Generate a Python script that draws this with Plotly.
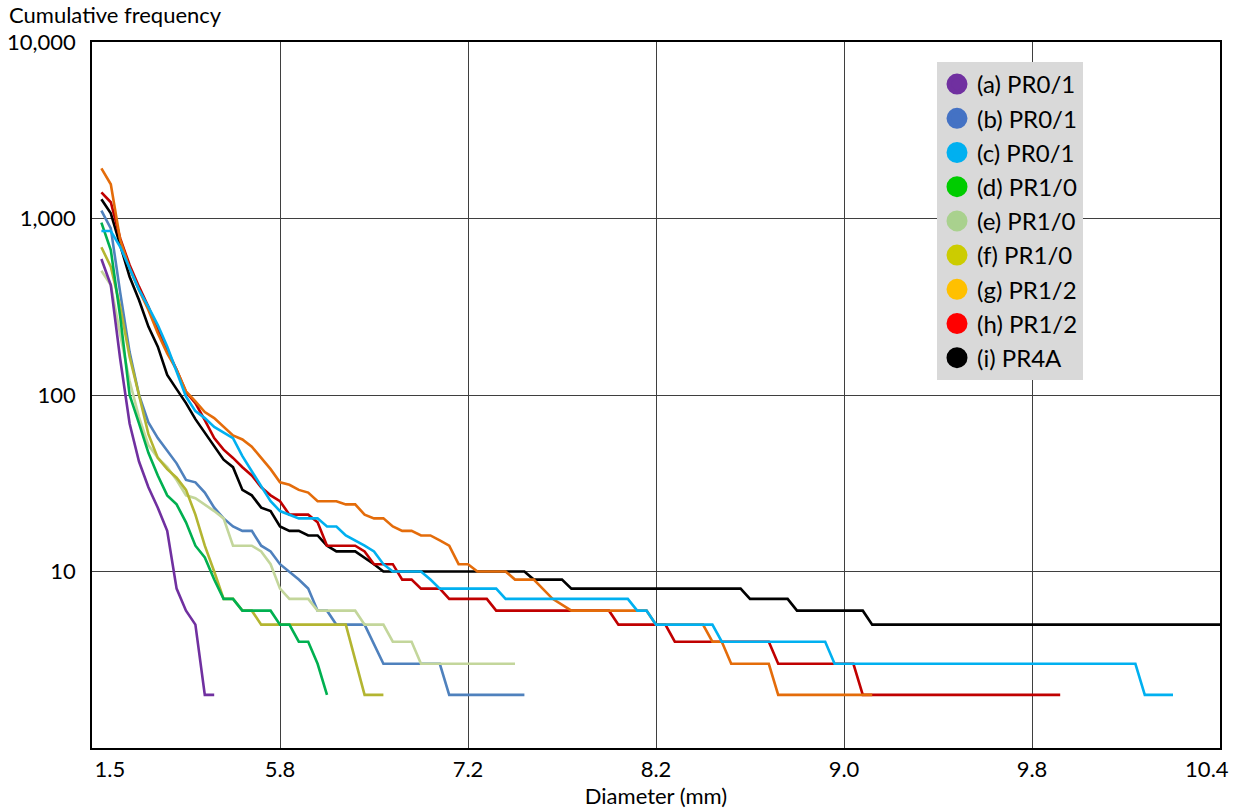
import plotly.graph_objects as go

FONT = "Lato"

# ---------------- axis text ----------------
x_tick_text = ["1.5", "5.8", "7.2", "8.2", "9.0", "9.8", "10.4"]
x_tick_pos = [1.9, 20, 40, 60, 80, 100, 118.6]      # label positions (bin index)
x_grid_pos = [0, 20, 40, 60, 80, 100, 120]          # gridline positions (bin index)
y_tick_vals = [10, 100, 1000, 10000]
y_tick_text = ["10", "100", "1,000", "10,000"]

# ---------------- series (bin index, cumulative frequency) ----------------
names = ["(a) PR0/1", "(b) PR0/1", "(c) PR0/1", "(d) PR1/0", "(e) PR1/0",
         "(f) PR1/0", "(g) PR1/2", "(h) PR1/2", "(i) PR4A"]
line_colors = ["#7030a0", "#4f81bd", "#00b0f0", "#00b050", "#c3d69b",
               "#b3b531", "#e46c0a", "#c00000", "#000000"]
legend_colors = ["#7030a0", "#4472c4", "#00b0f0", "#00cc00", "#a9d18e",
                 "#cccc00", "#ffc000", "#ff0000", "#000000"]

a_x = [1, 2, 3, 4, 5, 6, 7, 8, 9, 10, 11, 12, 13]
a_y = [590, 420, 160, 69, 42, 30, 23, 17, 8, 6, 5, 2, 2]

b_x = [1, 2, 3, 4, 5, 6, 7, 8, 9, 10, 11, 12, 13, 14, 15, 16, 17, 18, 19, 20,
       21, 22, 23, 24, 25, 26, 29, 31, 37, 38, 46]
b_y = [1107, 880, 380, 175, 100, 70, 57, 48, 41, 33, 32, 28, 23, 20, 18, 17, 17, 14, 13, 11,
       10, 9, 8, 6, 6, 5, 5, 3, 3, 2, 2]

c_x = [1, 2, 3, 4, 5, 6, 7, 8, 9, 10, 11, 12, 13, 14, 15, 16, 17, 18, 19, 20,
       21, 22, 23, 24, 25, 26, 27, 28, 29, 30, 31, 32, 35, 36, 37, 43, 44, 57, 58, 59,
       60, 66, 67, 78, 79, 111, 112, 115]
c_y = [850, 850, 692, 522, 394, 316, 249, 188, 135, 98, 81, 74, 66, 61, 57, 45, 37, 30, 25, 22,
       21, 20, 20, 20, 18, 18, 16, 15, 14, 13, 11, 10, 10, 9, 8, 8, 7, 7, 6, 6,
       5, 5, 4, 4, 3, 3, 2, 2]

d_x = [1, 2, 3, 4, 5, 6, 7, 8, 9, 10, 11, 12, 13, 14, 15, 16, 19, 20, 21, 22, 23, 24, 25]
d_y = [947, 663, 278, 100, 69, 47, 35, 27, 24, 19, 14, 12, 9, 7, 7, 6, 6, 5, 5, 4, 4, 3, 2]

e_x = [1, 2, 3, 4, 5, 6, 7, 8, 9, 10, 11, 12, 13, 14, 15, 17, 18, 19, 20, 21,
       23, 24, 28, 29, 31, 32, 34, 35, 45]
e_y = [506, 420, 220, 120, 75, 52, 44, 39, 33, 27, 26, 24, 22, 20, 14, 14, 13, 11, 8, 7,
       7, 6, 6, 5, 5, 4, 4, 3, 3]

f_x = [1, 2, 3, 4, 5, 6, 7, 8, 9, 10, 11, 12, 13, 14, 15, 16, 17, 18, 27, 29, 31]
f_y = [687, 533, 316, 165, 100, 60, 44, 38, 34, 29, 21, 14, 10, 7, 7, 6, 6, 5, 5, 2, 2]

g_x = [1, 2, 3, 4, 5, 6, 7, 8, 9, 10, 11, 12, 13, 14, 15, 16, 17, 18, 19, 20,
       21, 22, 23, 24, 25, 26, 27, 28, 29, 30, 31, 32, 33, 34, 35, 36, 37, 38, 39, 40,
       41, 44, 45, 47, 49, 51, 59, 60, 65, 66, 67, 68, 72, 73, 83]
g_y = [1925, 1563, 756, 522, 394, 303, 224, 172, 139, 105, 92, 80, 74, 66, 59, 56, 51, 44, 38, 32,
       31, 29, 28, 25, 25, 25, 24, 24, 21, 20, 20, 18, 17, 17, 16, 16, 15, 14, 11, 11,
       10, 10, 9, 9, 7, 6, 6, 5, 5, 4, 4, 3, 3, 2, 2]

h_x = [1, 2, 3, 4, 5, 6, 7, 8, 9, 10, 11, 12, 13, 14, 15, 16, 17, 18, 19, 20,
       21, 22, 23, 24, 25, 28, 29, 30, 32, 33, 34, 35, 37, 38, 42, 43, 55, 56, 61, 62,
       72, 73, 81, 82, 103]
h_y = [1407, 1236, 772, 545, 411, 316, 233, 180, 139, 104, 90, 72, 57, 49, 44, 39, 35, 30, 27, 25,
       21, 21, 21, 19, 14, 14, 13, 11, 11, 9, 9, 8, 8, 7, 7, 6, 6, 5, 5, 4,
       4, 3, 3, 2, 2]

i_x = [1, 2, 3, 4, 5, 6, 7, 8, 9, 10, 11, 12, 13, 14, 15, 16, 17, 18, 19, 20,
       21, 22, 23, 24, 25, 26, 28, 29, 30, 31, 46, 47, 50, 51, 69, 70, 74, 75, 82, 83, 120]
i_y = [1285, 1070, 707, 468, 345, 244, 188, 130, 108, 90, 73, 61, 51, 43, 39, 29, 27, 23, 22, 18,
       17, 17, 16, 16, 14, 13, 13, 12, 11, 10, 10, 9, 9, 8, 8, 7, 7, 6, 6, 5, 5]

series = {
    "a": (a_x, a_y), "b": (b_x, b_y), "c": (c_x, c_y), "d": (d_x, d_y), "e": (e_x, e_y),
    "f": (f_x, f_y), "g": (g_x, g_y), "h": (h_x, h_y), "i": (i_x, i_y),
}
keys = ["a", "b", "c", "d", "e", "f", "g", "h", "i"]
draw_order = ["b", "e", "f", "d", "a", "i", "h", "g", "c"]   # bottom -> top

fig = go.Figure()

for k in draw_order:
    n = keys.index(k)
    xs, ys = series[k]
    fig.add_trace(go.Scatter(
        x=xs, y=ys, mode="lines", name=names[n], showlegend=False,
        line=dict(color=line_colors[n], width=2.6),
        xaxis="x", yaxis="y", hoverinfo="x+y+name",
    ))

# legend entries (circle markers, colours as in the legend)
for n, k in enumerate(keys):
    fig.add_trace(go.Scatter(
        x=[None], y=[None], mode="markers", name=names[n],
        marker=dict(size=16, color=legend_colors[n],
                    line=dict(width=5, color=legend_colors[n])),
        xaxis="x2", yaxis="y",
    ))

grid_col = "#3f3f3f"

fig.update_layout(
    width=1237, height=811,
    margin=dict(l=92, r=17, t=42, b=63, autoexpand=False),
    paper_bgcolor="white", plot_bgcolor="white",
    font=dict(family=FONT, size=22, color="black"),
    showlegend=True,
    legend=dict(
        x=(937 - 92) / 1128, y=(748 - 62) / 706, xanchor="left", yanchor="top",
        bgcolor="#d9d9d9", borderwidth=0, traceorder="normal",
        font=dict(family=FONT, size=24, color="black"),
        itemsizing="trace",
    ),
    xaxis=dict(
        range=[0, 120], tickmode="array", tickvals=x_grid_pos, showticklabels=False,
        ticks="", showgrid=True, gridcolor=grid_col, gridwidth=1.3,
        showline=True, linecolor="black", linewidth=1.5, mirror=True, zeroline=False,
    ),
    xaxis2=dict(
        overlaying="x", anchor="y", side="bottom", range=[0, 120],
        tickmode="array", tickvals=x_tick_pos, ticktext=x_tick_text,
        ticks="", showgrid=False, showline=False, zeroline=False,
        ticklabelstandoff=6,
        tickfont=dict(family=FONT, size=22),
        title=dict(text="Diameter (mm)", font=dict(family=FONT, size=22), standoff=2),
    ),
    yaxis=dict(
        type="log", range=[0, 4], tickmode="array", tickvals=y_tick_vals, ticktext=y_tick_text,
        ticks="", showgrid=True, gridcolor=grid_col, gridwidth=1.3,
        showline=True, linecolor="black", linewidth=1.5, mirror=True, zeroline=False,
        ticklabelstandoff=10,
        tickfont=dict(family=FONT, size=22),
    ),
    annotations=[dict(
        text="Cumulative frequency", xref="paper", yref="paper",
        x=(8 - 92) / 1128, y=(748 - 29) / 706, xanchor="left", yanchor="bottom",
        showarrow=False, font=dict(family=FONT, size=22, color="black"),
        borderpad=0,
    )],
)

fig.write_html("out.html", config={"displayModeBar": False},
               post_script="document.body.style.margin='0';")
